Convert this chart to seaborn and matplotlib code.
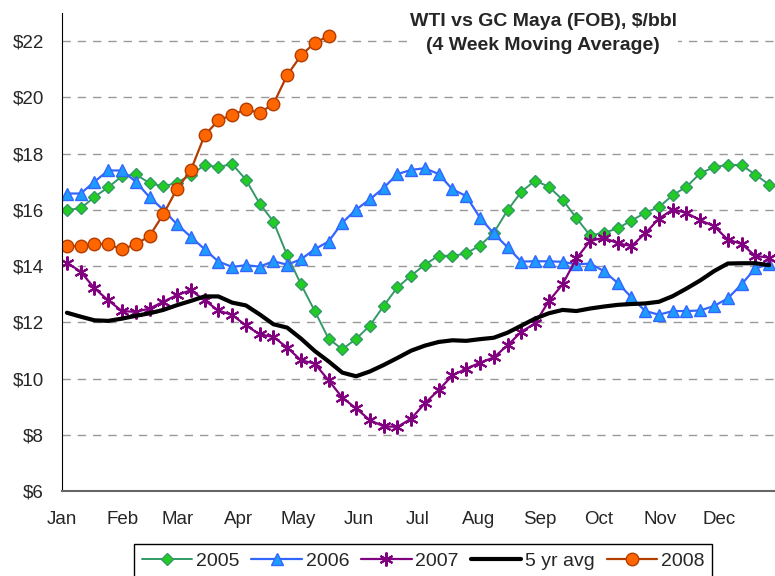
import numpy as np
import matplotlib
matplotlib.use("Agg")
import matplotlib.pyplot as plt
import seaborn as sns

# weekly values, $/bbl (4 week moving average)
y2005 = [16.0, 16.05, 16.46, 16.8, 17.2, 17.26, 16.95, 16.83, 16.97, 17.24,
         17.59, 17.52, 17.63, 17.07, 16.22, 15.58, 14.38, 13.35, 12.4, 11.42,
         11.04, 11.41, 11.88, 12.58, 13.24, 13.66, 14.05, 14.37, 14.36, 14.45,
         14.73, 15.18, 15.98, 16.64, 17.04, 16.82, 16.36, 15.71, 15.09, 15.18,
         15.34, 15.62, 15.89, 16.1, 16.52, 16.82, 17.3, 17.52, 17.6, 17.59,
         17.25, 16.9]
y2006 = [16.58, 16.58, 17.0, 17.4, 17.4, 17.0, 16.45, 16.0, 15.48, 15.04,
         14.6, 14.16, 13.97, 14.03, 13.98, 14.17, 14.05, 14.24, 14.6, 14.87,
         15.54, 16.01, 16.37, 16.78, 17.27, 17.42, 17.48, 17.27, 16.73, 16.49,
         15.72, 15.16, 14.67, 14.16, 14.17, 14.17, 14.15, 14.06, 14.09, 13.82,
         13.4, 12.89, 12.4, 12.27, 12.4, 12.4, 12.42, 12.58, 12.85, 13.35,
         13.92, 14.06]
y2007 = [14.12, 13.8, 13.21, 12.78, 12.4, 12.37, 12.49, 12.73, 12.97, 13.14,
         12.78, 12.42, 12.26, 11.89, 11.57, 11.48, 11.1, 10.65, 10.53, 9.94,
         9.32, 8.94, 8.52, 8.3, 8.28, 8.57, 9.12, 9.59, 10.11, 10.35,
         10.56, 10.75, 11.18, 11.66, 11.96, 12.75, 13.35, 14.27, 14.89, 15.01,
         14.81, 14.71, 15.16, 15.69, 16.01, 15.89, 15.63, 15.42, 14.94, 14.79,
         14.36, 14.3]
avg5 = [12.34, 12.2, 12.07, 12.05, 12.13, 12.23, 12.32, 12.44, 12.61, 12.76,
        12.92, 12.92, 12.7, 12.6, 12.28, 11.93, 11.81, 11.42, 10.98, 10.61,
        10.21, 10.08, 10.25, 10.48, 10.73, 10.99, 11.17, 11.3, 11.36, 11.34,
        11.4, 11.45, 11.63, 11.88, 12.13, 12.32, 12.44, 12.4, 12.49, 12.56,
        12.62, 12.65, 12.67, 12.73, 12.93, 13.2, 13.49, 13.82, 14.09, 14.1,
        14.1, 14.03]
y2008 = [14.71, 14.71, 14.8, 14.77, 14.6, 14.77, 15.07, 15.84, 16.75, 17.41,
         18.65, 19.18, 19.38, 19.57, 19.45, 19.77, 20.79, 21.49, 21.94, 22.18]

months = ["Jan", "Feb", "Mar", "Apr", "May", "Jun",
          "Jul", "Aug", "Sep", "Oct", "Nov", "Dec"]
month_start = [0, 31, 59, 90, 120, 151, 181, 212, 243, 273, 304, 334]

# x position of each weekly point, in days from Jan 1
days = 2.5 + 7 * np.arange(52)

sns.set_style("white")
plt.rcParams["font.family"] = ["Liberation Sans", "DejaVu Sans"]

fig, ax = plt.subplots(figsize=(7.75, 5.76), dpi=100)
fig.subplots_adjust(left=0.08, right=1.0, bottom=0.1476, top=0.9774)

sns.lineplot(x=days, y=y2005, ax=ax, color="#339966", lw=1.4, marker="D",
             markersize=6.5, markerfacecolor="#22CC22", markeredgecolor="#339966",
             markeredgewidth=1, label="2005")
sns.lineplot(x=days, y=y2006, ax=ax, color="#3366FF", lw=1.6, marker="^",
             markersize=9, markerfacecolor="#1E9BFF", markeredgecolor="#3366FF",
             markeredgewidth=1, label="2006")
sns.lineplot(x=days, y=y2007, ax=ax, color="#800080", lw=1.6, marker=(6, 2, 0),
             markersize=10, markeredgecolor="#800080", markeredgewidth=1.5,
             label="2007")
sns.lineplot(x=days, y=avg5, ax=ax, color="black", lw=3, label="5 yr avg")
sns.lineplot(x=days[:len(y2008)], y=y2008, ax=ax, color="#B33C00", lw=1.6,
             marker="o", markersize=9, markerfacecolor="#FF6600",
             markeredgecolor="#B33C00", markeredgewidth=1, label="2008")

ax.set_xlim(0, 362.5)
ax.set_ylim(6, 23)
ax.set_yticks(range(6, 23, 2))
ax.set_yticklabels([f"${v}" for v in range(6, 23, 2)], fontsize=13.5)
ax.set_xticks(month_start)
ax.set_xticklabels(months, fontsize=13.5)
ax.tick_params(axis="x", direction="inout", length=5, width=1, color="#555555", pad=12)
ax.tick_params(axis="y", direction="out", length=4, width=1, color="#555555", pad=9)

ax.grid(axis="y", linestyle=(0, (6, 5)), color="#999999", lw=1)
ax.set_axisbelow(True)
sns.despine(ax=ax)
ax.spines["left"].set_color("black")
ax.spines["bottom"].set_color("#666666")
ax.spines["bottom"].set_linewidth(1.5)

ax.text(0.675, 1.0, "WTI vs GC Maya (FOB), $/bbl\n(4 Week Moving Average)",
        transform=ax.transAxes, ha="center", va="top", fontsize=14,
        fontweight="bold", linespacing=1.5,
        bbox=dict(facecolor="white", edgecolor="none", pad=1))

ax.get_legend().remove()
handles, labels = ax.get_legend_handles_labels()
fig.legend(handles, labels, loc="center", bbox_to_anchor=(0.546, 0.026), ncol=5,
           fontsize=14, frameon=True, fancybox=False, edgecolor="black",
           handlelength=2.6, handletextpad=0.2, columnspacing=0.6,
           borderpad=0.4, framealpha=1)

fig.savefig("out.png", dpi=100)
